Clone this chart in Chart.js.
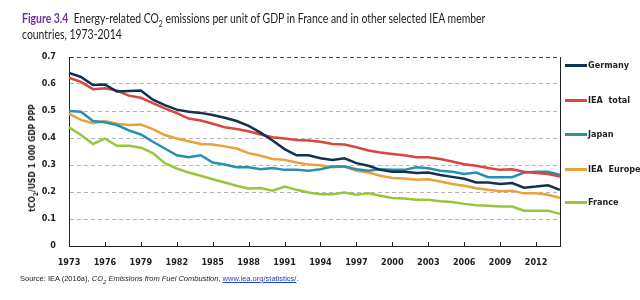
<!DOCTYPE html>
<html>
<head>
<meta charset="utf-8">
<script src="https://cdn.jsdelivr.net/npm/chart.js@4"></script>
<style>
  body { margin: 0; background: #fff; }
  #wrap { position: relative; width: 640px; height: 300px; overflow: hidden; }
  #chart { position: absolute; left: 0; top: 0; }
  sub { line-height: 0; }
  .title { position: absolute; left: 22px; top: 10px; font-family: Lato, "Open Sans", sans-serif; font-size: 14px; line-height: 16px; color: #222; white-space: nowrap; transform: scaleX(0.745); transform-origin: 0 0; }
  .title b { color: #7030a0; }
  .ytitle { position: absolute; left: 32px; top: 158px; transform: translate(-50%, -50%) rotate(-90deg); font-family: "DejaVu Sans Condensed", sans-serif; font-size: 8.5px; font-weight: bold; color: #222; white-space: nowrap; }
  .legend { position: absolute; left: 565px; font-family: "DejaVu Sans Condensed", sans-serif; font-size: 9px; font-weight: bold; color: #222; white-space: nowrap; display: flex; align-items: center; }
  .legend span.sw { display: inline-block; width: 22px; height: 3px; margin-right: 1px; }
  .source { position: absolute; left: 20px; top: 274px; font-family: "Liberation Sans", Arial, sans-serif; font-size: 7.5px; color: #222; white-space: nowrap; }
  .source a { color: #2244cc; }
</style>
</head>
<body>
<div id="wrap">
  <canvas id="chart" width="640" height="300"></canvas>
  <div class="title"><b>Figure 3.4</b>&nbsp; Energy-related CO<sub style="font-size:9px">2</sub> emissions per unit of GDP in France and in other selected IEA member<br>countries, 1973-2014</div>
  <div class="ytitle">tCO<sub style="font-size:6.5px">2</sub>/USD 1 000 GDP PPP</div>
  <div id="legend"></div>
  <div class="source">Source: IEA (2016a), <i>CO<sub style="font-size:6px">2</sub> Emissions from Fuel Combustion</i>, <a href="#">www.iea.org/statistics/</a>.</div>
</div>
<script>
const years = []
for (let y = 1973; y <= 2014; y++) years.push(String(y))

const germany = [0.641, 0.626, 0.596, 0.598, 0.572, 0.574, 0.576, 0.542, 0.522, 0.505, 0.497, 0.493, 0.485, 0.475, 0.463, 0.445, 0.420, 0.391, 0.359, 0.336, 0.336, 0.325,
  0.319, 0.325, 0.307, 0.297, 0.282, 0.275, 0.275, 0.270, 0.272, 0.263, 0.256, 0.249, 0.235, 0.235, 0.230, 0.233, 0.216, 0.220, 0.225, 0.208]
const ieaTotal = [0.623, 0.608, 0.581, 0.584, 0.576, 0.557, 0.549, 0.529, 0.510, 0.492, 0.472, 0.465, 0.453, 0.440, 0.433, 0.425, 0.413, 0.403, 0.398, 0.393, 0.391, 0.386,
  0.378, 0.376, 0.366, 0.354, 0.346, 0.341, 0.336, 0.329, 0.329, 0.322, 0.313, 0.303, 0.297, 0.289, 0.282, 0.284, 0.275, 0.270, 0.267, 0.257]
const japan = [0.500, 0.497, 0.463, 0.458, 0.448, 0.428, 0.413, 0.386, 0.361, 0.336, 0.329, 0.336, 0.309, 0.302, 0.292, 0.292, 0.284, 0.289, 0.282, 0.282, 0.279, 0.284,
  0.294, 0.294, 0.284, 0.279, 0.284, 0.282, 0.282, 0.292, 0.288, 0.279, 0.275, 0.267, 0.272, 0.255, 0.255, 0.255, 0.272, 0.275, 0.275, 0.263]
const ieaEurope = [0.490, 0.467, 0.455, 0.463, 0.453, 0.448, 0.450, 0.433, 0.411, 0.398, 0.388, 0.378, 0.376, 0.369, 0.361, 0.344, 0.334, 0.322, 0.319, 0.309, 0.302, 0.299,
  0.292, 0.294, 0.279, 0.272, 0.260, 0.252, 0.250, 0.245, 0.247, 0.239, 0.230, 0.223, 0.214, 0.208, 0.203, 0.205, 0.195, 0.195, 0.190, 0.178]
const france = [0.440, 0.411, 0.378, 0.398, 0.371, 0.371, 0.364, 0.344, 0.307, 0.287, 0.272, 0.260, 0.247, 0.235, 0.223, 0.213, 0.215, 0.205, 0.220, 0.208, 0.198, 0.192,
  0.192, 0.198, 0.190, 0.195, 0.186, 0.178, 0.176, 0.171, 0.171, 0.166, 0.163, 0.156, 0.151, 0.149, 0.146, 0.146, 0.131, 0.131, 0.131, 0.119]

const seriesNames = ['Germany', 'IEA  total', 'Japan', 'IEA  Europe', 'France']
const seriesColors = ['#12304f', '#d8463f', '#2590b0', '#e9a23b', '#9bc43d']
const legendTops = [67, 102, 136, 171, 204]

const tickFont = { family: '"DejaVu Sans Condensed", sans-serif', size: 9, weight: 'bold' }

// frame on the right and small inward ticks on the year axis
const framePlugin = {
  id: 'frame',
  afterDraw(chart) {
    const { ctx, chartArea: a, scales: { x } } = chart
    ctx.save()
    ctx.strokeStyle = '#222'
    ctx.lineWidth = 1
    ctx.beginPath()
    ctx.moveTo(a.right + 0.5, a.top)
    ctx.lineTo(a.right + 0.5, a.bottom)
    for (let i = 0; i < years.length; i += 3) {
      const px = Math.round(x.getPixelForValue(i)) + 0.5
      ctx.moveTo(px, a.bottom)
      ctx.lineTo(px, a.bottom - 4)
    }
    ctx.stroke()
    ctx.restore()
  }
}

const ctx = document.getElementById('chart').getContext('2d')
new Chart(ctx, {
  type: 'line',
  data: {
    labels: years,
    datasets: [germany, ieaTotal, japan, ieaEurope, france].map((d, i) => ({
      label: seriesNames[i],
      data: d,
      borderColor: seriesColors[i],
      borderWidth: 2.5,
      pointRadius: 0,
      tension: 0,
      fill: false
    }))
  },
  options: {
    responsive: false,
    animation: false,
    layout: { padding: { top: 57, right: 80, bottom: 34, left: 0 } },
    plugins: { legend: { display: false }, tooltip: { enabled: false } },
    scales: {
      x: {
        offset: false,
        afterFit(scale) { scale.height = 20 },
        grid: { display: false, drawTicks: false },
        border: { display: true, color: '#222', width: 1 },
        ticks: {
          autoSkip: false, maxRotation: 0, padding: 11, color: '#222', font: tickFont,
          callback: (v, i) => (i % 3 === 0 ? years[i] : '')
        }
      },
      y: {
        min: 0, max: 0.7,
        afterFit(scale) { scale.width = 69 },
        grid: {
          drawTicks: false,
          color: c => (c.tick.value >= 0.7 ? '#444' : '#b5b5b5'),
          lineWidth: 1
        },
        border: { display: true, color: '#222', width: 1, dash: [4, 3] },
        ticks: {
          stepSize: 0.1, padding: 13, color: '#222', font: tickFont,
          callback: v => (v === 0 ? '0' : v.toFixed(1))
        }
      }
    }
  },
  plugins: [framePlugin]
})

const legendEl = document.getElementById('legend')
seriesNames.forEach((name, i) => {
  const row = document.createElement('div')
  row.className = 'legend'
  row.style.top = (legendTops[i] - 7) + 'px'
  row.innerHTML = '<span class="sw" style="background:' + seriesColors[i] + '"></span>' + name.replace(/ /g, '&nbsp;')
  legendEl.appendChild(row)
})
</script>
</body>
</html>
